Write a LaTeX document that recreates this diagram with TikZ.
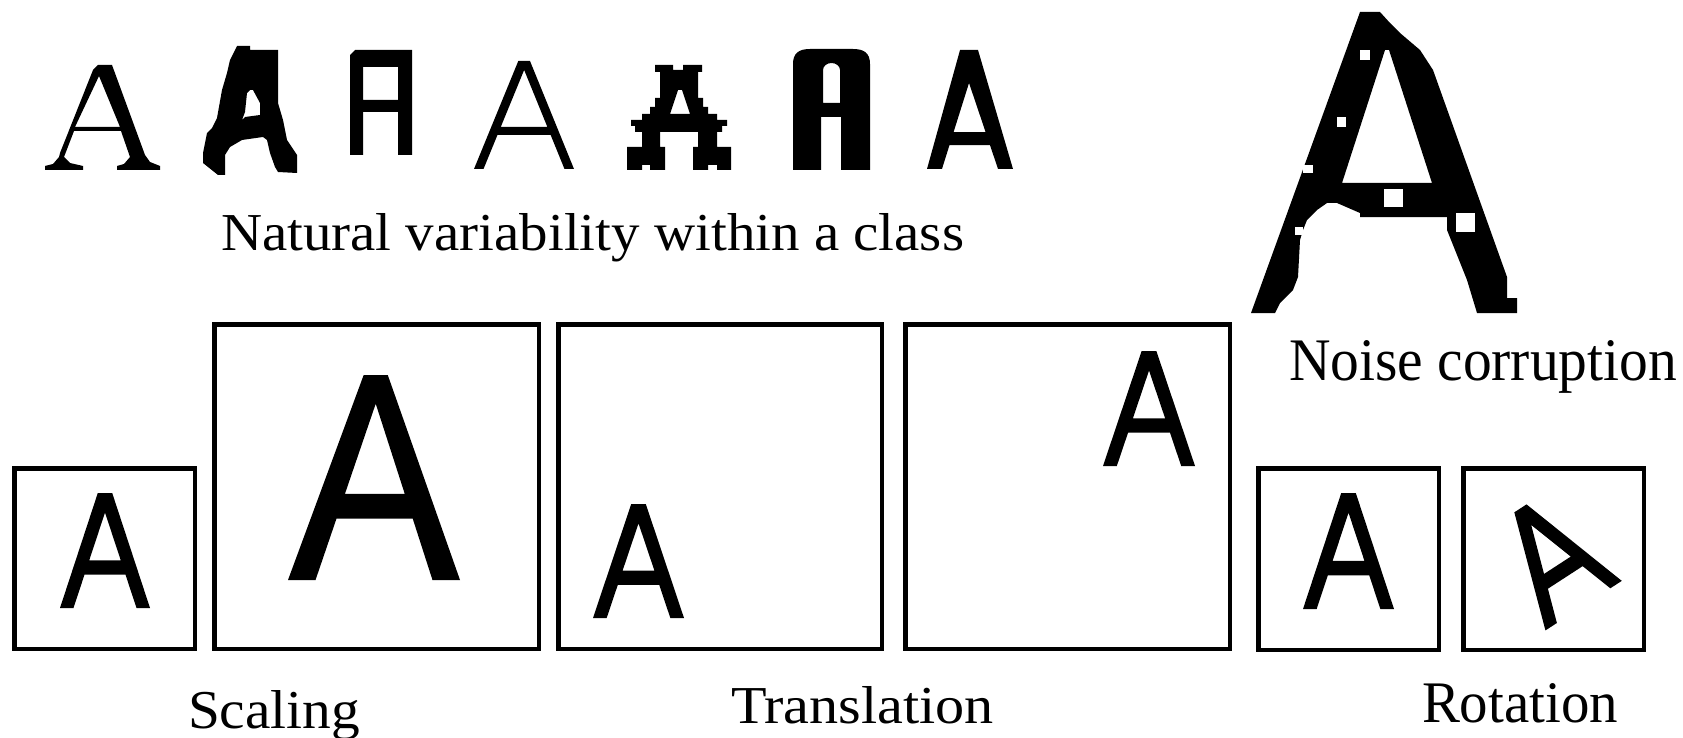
\documentclass[tikz,border=0pt]{standalone}
\usepackage{fontspec}
\setmainfont{Liberation Serif}
\usepackage{graphicx}
\tikzset{
  glyph/.style={fill=black},
  frame/.style={draw=black, line width=4.5pt, inner sep=0pt, outer sep=0pt},
  lbl/.style={inner sep=0pt, outer sep=0pt, anchor=base west, text=black},
}
% sans-serif A in unit square: #1 apex left, #2 apex right, #3 foot width,
% #4 inner apex height, #5 crossbar top, #6 crossbar bottom
\newcommand{\sansA}[6]{%
  \pgfmathsetmacro\Axi{(#1+#2)/2}%
  \pgfmathsetmacro\Alb{#3+(\Axi-#3)*(1-#6)/(1-#4)}%
  \pgfmathsetmacro\Arb{1-#3-(1-#3-\Axi)*(1-#6)/(1-#4)}%
  \pgfmathsetmacro\Alt{#3+(\Axi-#3)*(1-#5)/(1-#4)}%
  \pgfmathsetmacro\Art{1-#3-(1-#3-\Axi)*(1-#5)/(1-#4)}%
  \pgfmathsetmacro\Art{1-#3-(1-#3-\Axi)*(1-#5)/(1-#4)}%
  \pgfmathsetmacro\Ari{1-#3}%
  \fill[glyph,even odd rule] (0,1) -- (#1,0) -- (#2,0) -- (1,1) -- (\Ari,1)
    -- (\Arb,#6) -- (\Alb,#6) -- (#3,1) -- cycle
    (\Axi,#4) -- (\Art,#5) -- (\Alt,#5) -- cycle;}
\begin{document}
\begin{tikzpicture}[x=1pt,y=-1pt]
\useasboundingbox[fill=white] (0,0) rectangle (1683,738);

% ---------- top row: natural variability ----------
% A1 serif
\fill[glyph,even odd rule] (45,170) -- (45,166) -- (53,164) -- (59,157) -- (60,153) -- (93,70) -- (98,65) -- (112,65)
  -- (145,155) -- (150,162) -- (160,166) -- (160,170) -- (117,170) -- (117,166) -- (124,164) -- (130,157)
  -- (121,131) -- (74,131) -- (64,157) -- (70,163) -- (83,166) -- (83,170) -- cycle
  (99,76) -- (120,127) -- (75,127) -- cycle;
% A2 bold rough
\fill[glyph,even odd rule] (237,46) -- (250,46) -- (250,50) -- (278,50) -- (278,103) -- (283,120) -- (287,140)
  -- (297,155) -- (297,173) -- (278,172) -- (275,167) -- (270,153) -- (267,140) -- (263,137) -- (242,140)
  -- (230,147) -- (225,155) -- (225,175) -- (218,175) -- (208,167) -- (203,163) -- (203,153) -- (207,133)
  -- (212,128) -- (217,118) -- (222,90) -- (227,73) -- (230,60) -- cycle
  (250,90) -- (253,90) -- (260,103) -- (260,115) -- (245,117) -- (242,120) -- (245,112) -- (247,93) -- cycle;
% A3 block
\fill[glyph,even odd rule] (350,155) -- (350,55) -- (355,50) -- (412,50) -- (412,155) -- (398,155) -- (398,112)
  -- (363,112) -- (363,155) -- cycle
  (363,67) rectangle (398,100);
% A4 thin sans
\begin{scope}[shift={(474,61)},x={(100pt,0)},y={(0,-108pt)}]
  \sansA{0.443}{0.56}{0.095}{0.083}{0.61}{0.685}
\end{scope}
% A5 blackletter-like
\fill[glyph,even odd rule] (627,170) -- (627,147) -- (642,147) -- (642,132) -- (635,132) -- (635,126) -- (631,126)
  -- (631,120) -- (642,120) -- (642,114) -- (650,114) -- (650,107) -- (655,107) -- (655,98) -- (660,98)
  -- (660,72) -- (655,72) -- (655,65) -- (673,65) -- (673,70) -- (683,70) -- (683,65) -- (702,65)
  -- (702,72) -- (698,72) -- (698,98) -- (703,98) -- (703,107) -- (708,107) -- (708,114) -- (717,114)
  -- (717,120) -- (727,120) -- (727,126) -- (722,126) -- (722,132) -- (717,132) -- (717,147) -- (731,147)
  -- (731,170) -- (717,170) -- (717,165) -- (708,165) -- (708,170) -- (693,170) -- (693,147) -- (698,147)
  -- (698,132) -- (660,132) -- (660,147) -- (665,147) -- (665,170) -- (650,170) -- (650,165) -- (642,165)
  -- (642,170) -- cycle
  (678,90) -- (682,90) -- (690,114) -- (670,114) -- cycle;
% A6 rounded block
\fill[glyph,even odd rule] (793,170) -- (793,64) .. controls (793,53) and (799,49) .. (810,49) -- (853,49)
  .. controls (864,49) and (870,53) .. (870,64) -- (870,170) -- (841,170) -- (841,117) -- (821,117)
  -- (821,170) -- cycle
  (823,103) -- (823,70) .. controls (823,66) and (827,63) .. (831.5,63) .. controls (836,63) and (840,66) .. (840,70)
  -- (840,103) -- cycle;
% A7 medium sans
\begin{scope}[shift={(927,50)},x={(86pt,0)},y={(0,-119pt)}]
  \sansA{0.384}{0.593}{0.174}{0.277}{0.69}{0.80}
\end{scope}
\node[lbl] (natural) at (221,250) {\resizebox{743pt}{37pt}{Natural variability within a class}};

% ---------- noise corruption ----------
\fill[glyph,even odd rule] (1251,313) -- (1360,12) -- (1380,12) -- (1390,23) -- (1400,33) -- (1420,50) -- (1433,70)
  -- (1507,277) -- (1507,298) -- (1517,298) -- (1517,313) -- (1477,313) -- (1467,280) -- (1447,230)
  -- (1447,217) -- (1360,217) -- (1360,213) -- (1337,203) -- (1327,203) -- (1317,210) -- (1307,220)
  -- (1303,230) -- (1300,240) -- (1298,277) -- (1293,290) -- (1280,303) -- (1275,313) -- cycle
  (1385,50) -- (1389,50) -- (1432,183) -- (1342,183) -- cycle;
\fill[white] (1360,50) rectangle (1370,60);
\fill[white] (1337,117) rectangle (1346,127);
\fill[white] (1384,189) rectangle (1403,207);
\fill[white] (1456,213) rectangle (1475,232);
\fill[white] (1303,165) rectangle (1313,173);
\fill[white] (1295,227) rectangle (1303,235);
\node[lbl] (noise) at (1289,380) {\resizebox{388pt}{40pt}{Noise corruption}};

% ---------- frames ----------
\node[frame, minimum width=180.5pt, minimum height=180.5pt] (b1) at (104.5,558.5) {};
\node[frame, minimum width=324.5pt, minimum height=324.5pt] (b2) at (376.5,486.5) {};
\node[frame, minimum width=323.5pt, minimum height=324.5pt] (b3) at (720,486.5) {};
\node[frame, minimum width=324.5pt, minimum height=324.5pt] (b4) at (1067.5,486.5) {};
\node[frame, minimum width=180.5pt, minimum height=181.5pt] (b5) at (1348.5,559) {};
\node[frame, minimum width=180.5pt, minimum height=181.5pt] (b6) at (1553.5,559) {};

% ---------- letters in frames ----------
\begin{scope}[shift={(60,493)},x={(90pt,0)},y={(0,-115pt)}]
  \sansA{0.42}{0.58}{0.15}{0.17}{0.585}{0.71}
\end{scope}
\begin{scope}[shift={(288,375)},x={(172pt,0)},y={(0,-205pt)}]
  \sansA{0.44}{0.58}{0.16}{0.14}{0.58}{0.70}
\end{scope}
\begin{scope}[shift={(593,504)},x={(91pt,0)},y={(0,-114pt)}]
  \sansA{0.42}{0.58}{0.15}{0.17}{0.585}{0.71}
\end{scope}
\begin{scope}[shift={(1103,351)},x={(92pt,0)},y={(0,-115pt)}]
  \sansA{0.42}{0.58}{0.15}{0.17}{0.585}{0.71}
\end{scope}
\begin{scope}[shift={(1303,493)},x={(91pt,0)},y={(0,-116pt)}]
  \sansA{0.42}{0.58}{0.15}{0.17}{0.585}{0.71}
\end{scope}
\begin{scope}[rotate around={33:(1552,557)},shift={(1506.5,499)},x={(91pt,0)},y={(0,-116pt)}]
  \sansA{0.42}{0.58}{0.15}{0.17}{0.585}{0.71}
\end{scope}

% ---------- labels ----------
\node[lbl] (scaling) at (188,728) {\resizebox{172pt}{38pt}{Scaling}};
\node[lbl] (translation) at (731,723) {\resizebox{263pt}{37pt}{Translation}};
\node[lbl] (rotation) at (1422,722) {\resizebox{196pt}{39pt}{Rotation}};
\end{tikzpicture}
\end{document}
